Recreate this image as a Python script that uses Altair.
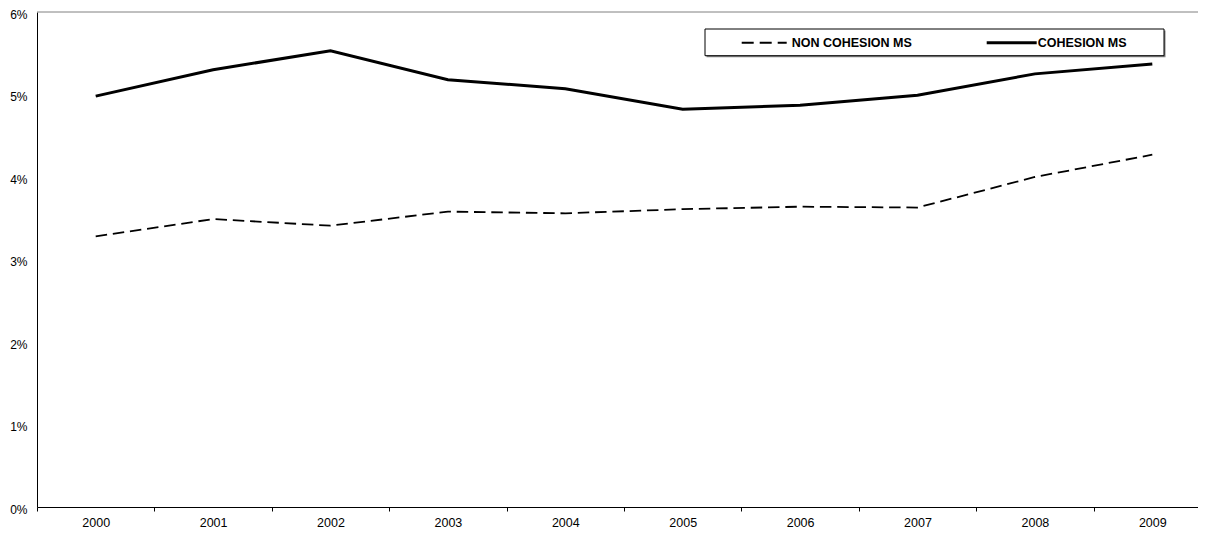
import altair as alt
import pandas as pd

years = ["2000", "2001", "2002", "2003", "2004", "2005", "2006", "2007", "2008", "2009"]
cohesion = [4.98, 5.30, 5.53, 5.18, 5.07, 4.82, 4.87, 4.99, 5.25, 5.37]
non_cohesion = [3.28, 3.49, 3.41, 3.58, 3.56, 3.61, 3.64, 3.63, 4.00, 4.27]
series_names = ["NON COHESION MS", "COHESION MS"]
y_ticks = [0, 0.01, 0.02, 0.03, 0.04, 0.05, 0.06]

df = pd.DataFrame({
    "year": years * 2,
    "series": [series_names[0]] * len(years) + [series_names[1]] * len(years),
    "value": [v / 100 for v in non_cohesion] + [v / 100 for v in cohesion],
})

FONT = "Liberation Sans"
W, H = 1161, 495

x_enc = alt.X(
    "year:N",
    bandPosition=0.5,
    scale=alt.Scale(type="band", domain=years, range=[0, 1174], paddingInner=0, paddingOuter=0),
    axis=alt.Axis(title=None, tickBand="extent", tickSize=4, tickColor="black", tickWidth=1,
                  labelPadding=5, labelAngle=0, domainColor="black", domainWidth=1, grid=False,
                  labelFontSize=12.5),
)
y_enc = alt.Y(
    "value:Q",
    scale=alt.Scale(domain=[0, 0.06], nice=False, zero=True),
    axis=alt.Axis(title=None, ticks=False, labelPadding=10, values=y_ticks, format=".0%",
                  grid=False, domainColor="black", domainWidth=1, labelFontSize=12,
                  labelOffset=2),
)

base = alt.Chart(df)
non_line = base.transform_filter(alt.datum.series == series_names[0]).mark_line(
    color="black", strokeWidth=1.8, strokeDash=[11.5, 5.8]
).encode(x=x_enc, y=y_enc)
coh_line = base.transform_filter(alt.datum.series == series_names[1]).mark_line(
    color="black", strokeWidth=3
).encode(x=x_enc, y=y_enc)

one = alt.Chart(pd.DataFrame({"k": [0]}))
top_rule = one.mark_rule(color="#808080", strokeWidth=1).encode(
    x=alt.value(0), x2=alt.value(1200), y=alt.value(0)
)

# legend box
shadow = one.mark_rect(fill="#808080").encode(
    x=alt.value(669.5), x2=alt.value(1128.5), y=alt.value(18.5), y2=alt.value(45.2)
)
box = one.mark_rect(fill="white", stroke="black", strokeWidth=1).encode(
    x=alt.value(668), x2=alt.value(1127), y=alt.value(17), y2=alt.value(43.7)
)
leg_dash = one.mark_rule(color="black", strokeWidth=2, strokeDash=[12, 6]).encode(
    x=alt.value(704.7), x2=alt.value(749.7), y=alt.value(30.7)
)
leg_solid = one.mark_rule(color="black", strokeWidth=3).encode(
    x=alt.value(949.7), x2=alt.value(999.7), y=alt.value(30.7)
)
leg_t1 = one.mark_text(font=FONT, fontSize=12.5, fontWeight="bold", align="left",
                       baseline="middle", color="black", text=series_names[0]).encode(
    x=alt.value(754.7), y=alt.value(31)
)
leg_t2 = one.mark_text(font=FONT, fontSize=12.5, fontWeight="bold", align="left",
                       baseline="middle", color="black", text=series_names[1]).encode(
    x=alt.value(1000.7), y=alt.value(31)
)

chart = alt.layer(
    top_rule, non_line, coh_line, shadow, box, leg_dash, leg_solid, leg_t1, leg_t2
).properties(
    width=W, height=H,
    autosize=alt.AutoSizeParams(type="none"),
    padding={"left": 29, "top": 4, "right": 0, "bottom": 25},
).configure_view(stroke=None).configure_axis(
    labelFont=FONT, labelColor="black"
)

chart.save("out.html", embed_options={"renderer": "svg", "actions": False})
